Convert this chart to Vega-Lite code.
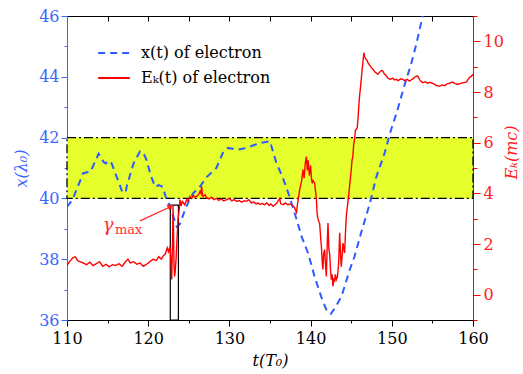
{
  "$schema": "https://vega.github.io/schema/vega-lite/v6.json",
  "width": 406,
  "height": 304,
  "autosize": "none",
  "padding": {"left": 67, "top": 16, "right": 50, "bottom": 54},
  "background": "white",
  "config": {
    "view": {"stroke": "black", "strokeWidth": 1},
    "font": "DejaVu Serif",
    "axis": {"grid": false, "labelFont": "DejaVu Serif", "titleFont": "DejaVu Serif", "labelFontSize": 16, "titleFontSize": 16, "titleFontWeight": "normal"},
    "legend": {"labelFont": "DejaVu Serif"}
  },
  "datasets": {
    "band": [{"t": 110, "t2": 160, "xl": 40, "xl2": 42}],
    "box": [{"t": 122.72, "t2": 123.72, "xl": 36, "xl2": 39.78}],
    "arrow": [{"t": 119.0, "t2": 122.6, "xl": 39.26, "xl2": 39.71}],
    "head": [{"t": 122.75, "xl": 39.74}],
    "gamma": [{"t": 114.4, "xl": 38.93, "label": "γ"}],
    "gsub": [{"t": 115.9, "xl": 38.84, "label": "max"}],
    "xpos": [
      {"t": 110, "xl": 39.72}, {"t": 110.7, "xl": 39.97}, {"t": 112.0, "xl": 40.83}, {"t": 112.9, "xl": 40.88},
      {"t": 113.9, "xl": 41.47}, {"t": 114.5, "xl": 41.2}, {"t": 114.8, "xl": 41.15}, {"t": 115.1, "xl": 41.24},
      {"t": 115.5, "xl": 41.15}, {"t": 116.5, "xl": 40.44}, {"t": 116.8, "xl": 40.22}, {"t": 117.2, "xl": 40.19},
      {"t": 117.4, "xl": 40.44}, {"t": 118.2, "xl": 41.15}, {"t": 119.0, "xl": 41.55}, {"t": 119.4, "xl": 41.5},
      {"t": 119.8, "xl": 41.26}, {"t": 120.3, "xl": 40.77}, {"t": 120.85, "xl": 40.38}, {"t": 121.3, "xl": 40.44},
      {"t": 121.8, "xl": 40.38}, {"t": 122.1, "xl": 40.1}, {"t": 122.4, "xl": 39.9}, {"t": 122.7, "xl": 39.73},
      {"t": 123.1, "xl": 39.4}, {"t": 123.5, "xl": 39.07}, {"t": 123.9, "xl": 39.15}, {"t": 124.5, "xl": 39.6},
      {"t": 125.15, "xl": 40.0}, {"t": 125.55, "xl": 40.17}, {"t": 126.4, "xl": 40.4}, {"t": 127.2, "xl": 40.7},
      {"t": 128.4, "xl": 41.0}, {"t": 129.2, "xl": 41.5}, {"t": 129.8, "xl": 41.66}, {"t": 131.0, "xl": 41.6},
      {"t": 132.1, "xl": 41.66}, {"t": 133.7, "xl": 41.82}, {"t": 135.0, "xl": 41.88}, {"t": 135.3, "xl": 41.6},
      {"t": 135.8, "xl": 41.16}, {"t": 136.6, "xl": 40.67}, {"t": 137.4, "xl": 40.06}, {"t": 138.3, "xl": 39.29},
      {"t": 138.9, "xl": 38.74}, {"t": 139.7, "xl": 38.19}, {"t": 140.5, "xl": 37.42}, {"t": 141.3, "xl": 36.77},
      {"t": 142.0, "xl": 36.3}, {"t": 142.5, "xl": 36.2}, {"t": 143.0, "xl": 36.4}, {"t": 143.8, "xl": 36.77},
      {"t": 144.8, "xl": 37.64}, {"t": 145.4, "xl": 38.08}, {"t": 146.2, "xl": 38.85}, {"t": 147.3, "xl": 39.84},
      {"t": 148.1, "xl": 40.71}, {"t": 149.1, "xl": 41.48}, {"t": 149.9, "xl": 42.25}, {"t": 150.7, "xl": 42.91},
      {"t": 151.5, "xl": 43.67}, {"t": 152.4, "xl": 44.44}, {"t": 153.0, "xl": 45.05}, {"t": 153.8, "xl": 46.0}
    ],
    "ek": [
      {"t": 110, "ek": 1.15}, {"t": 110.3, "ek": 1.3}, {"t": 110.7, "ek": 1.45}, {"t": 111.0, "ek": 1.5},
      {"t": 111.3, "ek": 1.35}, {"t": 111.6, "ek": 1.3}, {"t": 112.0, "ek": 1.25}, {"t": 112.4, "ek": 1.18},
      {"t": 112.8, "ek": 1.28}, {"t": 113.2, "ek": 1.15}, {"t": 113.6, "ek": 1.22}, {"t": 114.0, "ek": 1.3},
      {"t": 114.4, "ek": 1.12}, {"t": 114.8, "ek": 1.2}, {"t": 115.2, "ek": 1.1}, {"t": 115.6, "ek": 1.18},
      {"t": 116.0, "ek": 1.15}, {"t": 116.4, "ek": 1.22}, {"t": 116.8, "ek": 1.12}, {"t": 117.2, "ek": 1.3},
      {"t": 117.5, "ek": 1.4}, {"t": 117.8, "ek": 1.25}, {"t": 118.2, "ek": 1.3}, {"t": 118.6, "ek": 1.2},
      {"t": 119.0, "ek": 1.25}, {"t": 119.4, "ek": 1.12}, {"t": 119.8, "ek": 1.2}, {"t": 120.2, "ek": 1.3},
      {"t": 120.6, "ek": 1.4}, {"t": 121.0, "ek": 1.35}, {"t": 121.3, "ek": 1.5}, {"t": 121.6, "ek": 1.4},
      {"t": 121.9, "ek": 1.55}, {"t": 122.1, "ek": 1.6}, {"t": 122.35, "ek": 1.85}, {"t": 122.5, "ek": 1.7},
      {"t": 122.7, "ek": 1.9}, {"t": 122.81, "ek": 1.2}, {"t": 122.9, "ek": 0.6}, {"t": 123.0, "ek": 2.2},
      {"t": 123.06, "ek": 3.5}, {"t": 123.12, "ek": 2.5}, {"t": 123.18, "ek": 1.2}, {"t": 123.25, "ek": 0.72},
      {"t": 123.32, "ek": 0.9}, {"t": 123.43, "ek": 1.4}, {"t": 123.55, "ek": 2.2}, {"t": 123.67, "ek": 2.96},
      {"t": 123.8, "ek": 3.3}, {"t": 123.92, "ek": 3.75}, {"t": 124.05, "ek": 3.5}, {"t": 124.2, "ek": 3.68},
      {"t": 124.32, "ek": 3.63}, {"t": 124.5, "ek": 3.55}, {"t": 124.74, "ek": 3.75}, {"t": 124.9, "ek": 3.7},
      {"t": 125.15, "ek": 3.88}, {"t": 125.35, "ek": 3.8}, {"t": 125.55, "ek": 3.92}, {"t": 125.75, "ek": 3.85},
      {"t": 125.97, "ek": 3.88}, {"t": 126.2, "ek": 3.95}, {"t": 126.38, "ek": 4.08}, {"t": 126.5, "ek": 4.0},
      {"t": 126.58, "ek": 4.28}, {"t": 126.68, "ek": 3.9}, {"t": 126.78, "ek": 3.88}, {"t": 127.0, "ek": 3.95},
      {"t": 127.2, "ek": 3.82}, {"t": 127.5, "ek": 3.78}, {"t": 127.8, "ek": 3.85}, {"t": 128.1, "ek": 3.75},
      {"t": 128.4, "ek": 3.8}, {"t": 128.7, "ek": 3.72}, {"t": 129.0, "ek": 3.78}, {"t": 129.3, "ek": 3.7},
      {"t": 129.66, "ek": 3.75}, {"t": 130.0, "ek": 3.8}, {"t": 130.3, "ek": 3.7}, {"t": 130.6, "ek": 3.75},
      {"t": 130.9, "ek": 3.68}, {"t": 131.2, "ek": 3.72}, {"t": 131.5, "ek": 3.65}, {"t": 131.8, "ek": 3.7},
      {"t": 132.11, "ek": 3.69}, {"t": 132.4, "ek": 3.75}, {"t": 132.7, "ek": 3.62}, {"t": 133.0, "ek": 3.66},
      {"t": 133.3, "ek": 3.58}, {"t": 133.5, "ek": 3.62}, {"t": 133.75, "ek": 3.56}, {"t": 134.0, "ek": 3.6},
      {"t": 134.3, "ek": 3.55}, {"t": 134.6, "ek": 3.62}, {"t": 134.9, "ek": 3.52}, {"t": 135.1, "ek": 3.58},
      {"t": 135.38, "ek": 3.49}, {"t": 135.6, "ek": 3.55}, {"t": 135.8, "ek": 3.6}, {"t": 136.0, "ek": 3.7},
      {"t": 136.2, "ek": 3.8}, {"t": 136.3, "ek": 3.6}, {"t": 136.6, "ek": 3.55}, {"t": 136.9, "ek": 3.62},
      {"t": 137.2, "ek": 3.55}, {"t": 137.5, "ek": 3.58}, {"t": 137.84, "ek": 3.5}, {"t": 138.0, "ek": 3.45},
      {"t": 138.26, "ek": 3.25}, {"t": 138.4, "ek": 3.6}, {"t": 138.66, "ek": 4.15}, {"t": 138.9, "ek": 4.5},
      {"t": 139.07, "ek": 4.94}, {"t": 139.2, "ek": 4.6}, {"t": 139.35, "ek": 5.2}, {"t": 139.48, "ek": 5.45},
      {"t": 139.6, "ek": 4.9}, {"t": 139.7, "ek": 5.3}, {"t": 139.85, "ek": 4.7}, {"t": 140.0, "ek": 5.1},
      {"t": 140.1, "ek": 4.6}, {"t": 140.2, "ek": 4.4}, {"t": 140.3, "ek": 4.5}, {"t": 140.5, "ek": 4.4},
      {"t": 140.71, "ek": 3.8}, {"t": 140.8, "ek": 3.2}, {"t": 140.91, "ek": 3.0}, {"t": 141.0, "ek": 2.9},
      {"t": 141.12, "ek": 2.8}, {"t": 141.25, "ek": 2.2}, {"t": 141.33, "ek": 1.9}, {"t": 141.45, "ek": 1.2},
      {"t": 141.52, "ek": 0.99}, {"t": 141.6, "ek": 1.6}, {"t": 141.73, "ek": 1.78}, {"t": 141.85, "ek": 1.1},
      {"t": 141.94, "ek": 0.72}, {"t": 142.05, "ek": 2.0}, {"t": 142.14, "ek": 2.83}, {"t": 142.25, "ek": 1.8},
      {"t": 142.35, "ek": 1.6}, {"t": 142.45, "ek": 1.0}, {"t": 142.55, "ek": 0.59}, {"t": 142.65, "ek": 0.8},
      {"t": 142.75, "ek": 0.33}, {"t": 142.85, "ek": 0.6}, {"t": 142.96, "ek": 0.55}, {"t": 143.05, "ek": 0.8},
      {"t": 143.17, "ek": 0.59}, {"t": 143.3, "ek": 0.7}, {"t": 143.45, "ek": 1.2}, {"t": 143.58, "ek": 2.44},
      {"t": 143.7, "ek": 1.5}, {"t": 143.78, "ek": 1.1}, {"t": 143.9, "ek": 1.6}, {"t": 143.98, "ek": 2.04},
      {"t": 144.1, "ek": 1.8}, {"t": 144.19, "ek": 1.65}, {"t": 144.3, "ek": 2.5}, {"t": 144.4, "ek": 3.1},
      {"t": 144.5, "ek": 3.4}, {"t": 144.59, "ek": 3.62}, {"t": 144.7, "ek": 3.95}, {"t": 144.8, "ek": 4.28},
      {"t": 144.9, "ek": 4.6}, {"t": 145.01, "ek": 4.94}, {"t": 145.1, "ek": 5.3}, {"t": 145.21, "ek": 5.47},
      {"t": 145.3, "ek": 5.9}, {"t": 145.42, "ek": 6.13}, {"t": 145.52, "ek": 6.5}, {"t": 145.63, "ek": 6.52},
      {"t": 145.75, "ek": 6.6}, {"t": 145.85, "ek": 7.0}, {"t": 145.95, "ek": 7.5}, {"t": 146.03, "ek": 7.84},
      {"t": 146.15, "ek": 8.2}, {"t": 146.24, "ek": 8.5}, {"t": 146.35, "ek": 8.9}, {"t": 146.44, "ek": 9.16},
      {"t": 146.56, "ek": 9.55}, {"t": 146.65, "ek": 9.4}, {"t": 146.8, "ek": 9.3}, {"t": 146.95, "ek": 9.25},
      {"t": 147.05, "ek": 9.16}, {"t": 147.3, "ek": 9.05}, {"t": 147.5, "ek": 8.95}, {"t": 147.67, "ek": 8.9},
      {"t": 147.9, "ek": 8.8}, {"t": 148.1, "ek": 8.75}, {"t": 148.28, "ek": 8.7}, {"t": 148.5, "ek": 8.78},
      {"t": 148.7, "ek": 8.85}, {"t": 148.89, "ek": 8.83}, {"t": 149.1, "ek": 8.7}, {"t": 149.3, "ek": 8.65},
      {"t": 149.51, "ek": 8.55}, {"t": 149.8, "ek": 8.5}, {"t": 150.1, "ek": 8.55}, {"t": 150.3, "ek": 8.48},
      {"t": 150.54, "ek": 8.5}, {"t": 150.8, "ek": 8.45}, {"t": 151.1, "ek": 8.52}, {"t": 151.35, "ek": 8.5},
      {"t": 151.6, "ek": 8.45}, {"t": 151.9, "ek": 8.5}, {"t": 152.17, "ek": 8.43}, {"t": 152.5, "ek": 8.5},
      {"t": 152.8, "ek": 8.58}, {"t": 153.0, "ek": 8.62}, {"t": 153.19, "ek": 8.63}, {"t": 153.4, "ek": 8.5},
      {"t": 153.6, "ek": 8.42}, {"t": 153.81, "ek": 8.37}, {"t": 154.1, "ek": 8.4}, {"t": 154.4, "ek": 8.35},
      {"t": 154.7, "ek": 8.38}, {"t": 155.04, "ek": 8.34}, {"t": 155.3, "ek": 8.3}, {"t": 155.5, "ek": 8.25},
      {"t": 155.86, "ek": 8.23}, {"t": 156.2, "ek": 8.28}, {"t": 156.5, "ek": 8.25}, {"t": 156.8, "ek": 8.32},
      {"t": 157.1, "ek": 8.35}, {"t": 157.49, "ek": 8.39}, {"t": 157.8, "ek": 8.33}, {"t": 158.11, "ek": 8.3},
      {"t": 158.4, "ek": 8.33}, {"t": 158.7, "ek": 8.36}, {"t": 158.93, "ek": 8.37}, {"t": 159.2, "ek": 8.4},
      {"t": 159.55, "ek": 8.57}, {"t": 159.8, "ek": 8.62}, {"t": 160, "ek": 8.7}
    ]
  },
  "layer": [
    {
      "encoding": {
        "x": {
          "field": "t", "type": "quantitative",
          "scale": {"domain": [110, 160], "nice": false, "zero": false},
          "axis": {
            "orient": "bottom", "title": "t(T₀)", "titleFontStyle": "italic",
            "values": [110, 115, 120, 125, 130, 135, 140, 145, 150, 155, 160],
            "labelExpr": "datum.value % 10 == 0 ? datum.label : ''",
            "tickSize": {"condition": {"test": "datum.value % 10 != 0", "value": 3}, "value": 6},
            "labelFont": "DejaVu Serif", "titleFont": "DejaVu Serif",
            "domainColor": "black", "tickColor": "black", "labelColor": "black", "titleColor": "black",
            "labelPadding": 4, "titlePadding": 6, "labelFlush": false
          }
        },
        "y": {
          "field": "xl", "type": "quantitative",
          "scale": {"domain": [36, 46], "nice": false, "zero": false},
          "axis": {
            "orient": "left", "title": "x(λ₀)", "titleFontStyle": "italic",
            "values": [36, 37, 38, 39, 40, 41, 42, 43, 44, 45, 46],
            "labelExpr": "datum.value % 2 == 0 ? datum.label : ''",
            "tickSize": {"condition": {"test": "datum.value % 2 != 0", "value": 3}, "value": 6},
            "labelFont": "DejaVu Serif", "titleFont": "DejaVu Serif",
            "domainColor": "#3d66ff", "tickColor": "#3d66ff", "labelColor": "#3d66ff", "titleColor": "#3d66ff",
            "labelPadding": 2, "titlePadding": 9, "labelFlush": false
          }
        }
      },
      "layer": [
        {
          "data": {"name": "band"},
          "mark": {"type": "rect", "fill": "#e5ff2c", "stroke": "black", "strokeDash": [9, 3, 2, 3], "strokeWidth": 1.3},
          "encoding": {"x2": {"field": "t2"}, "y2": {"field": "xl2"}}
        },
        {
          "data": {"name": "xpos"},
          "mark": {"type": "line", "strokeWidth": 2, "clip": true},
          "encoding": {
            "color": {"datum": "x(t) of electron", "type": "nominal",
              "scale": {"domain": ["x(t) of electron", "Eₖ(t) of electron"], "range": ["#2e5bff", "#ff0000"]},
              "legend": {"title": null, "orient": "none", "legendX": 30, "legendY": 20, "symbolType": "stroke", "symbolSize": 1000, "symbolStrokeWidth": 2, "labelFont": "DejaVu Serif", "labelFontSize": 16, "labelColor": "black", "labelOffset": 10, "rowPadding": -8, "padding": 0}},
            "strokeDash": {"datum": "x(t) of electron", "type": "nominal",
              "scale": {"domain": ["x(t) of electron", "Eₖ(t) of electron"], "range": [[7, 5], [1, 0]]},
              "legend": {"title": null, "orient": "none", "legendX": 30, "legendY": 20, "symbolType": "stroke", "symbolSize": 1000, "symbolStrokeWidth": 2, "labelFont": "DejaVu Serif", "labelFontSize": 16, "labelColor": "black", "labelOffset": 10, "rowPadding": -8, "padding": 0}}
          }
        },
        {
          "data": {"name": "box"},
          "mark": {"type": "rect", "fillOpacity": 0, "stroke": "black", "strokeWidth": 1.2},
          "encoding": {"x2": {"field": "t2"}, "y2": {"field": "xl2"}}
        },
        {
          "data": {"name": "arrow"},
          "mark": {"type": "rule", "color": "#ff2020", "strokeWidth": 1.2},
          "encoding": {"x2": {"field": "t2"}, "y2": {"field": "xl2"}}
        },
        {
          "data": {"name": "head"},
          "mark": {"type": "point", "shape": "triangle-right", "filled": true, "color": "#ff2020", "size": 45, "angle": 333, "opacity": 1},
          "encoding": {}
        },
        {
          "data": {"name": "gamma"},
          "mark": {"type": "text", "color": "#ff3030", "fontSize": 18, "fontStyle": "italic", "align": "left", "baseline": "alphabetic", "font": "DejaVu Serif"},
          "encoding": {"text": {"field": "label"}}
        },
        {
          "data": {"name": "gsub"},
          "mark": {"type": "text", "color": "#ff3030", "fontSize": 13, "align": "left", "baseline": "alphabetic", "font": "DejaVu Serif"},
          "encoding": {"text": {"field": "label"}}
        }
      ]
    },
    {
      "data": {"name": "ek"},
      "mark": {"type": "line", "strokeWidth": 1.4, "clip": true},
      "encoding": {
        "x": {
          "field": "t", "type": "quantitative",
          "scale": {"domain": [110, 160], "nice": false, "zero": false},
          "axis": {
            "orient": "top", "title": null, "labels": false,
            "values": [110, 115, 120, 125, 130, 135, 140, 145, 150, 155, 160],
            "tickSize": -5, "domainColor": "black", "tickColor": "black"
          }
        },
        "y": {
          "field": "ek", "type": "quantitative",
          "scale": {"domain": [-1, 11], "nice": false, "zero": false},
          "axis": {
            "orient": "right", "title": "Eₖ(mc)", "titleFontStyle": "italic", "titleAngle": 270, "titleY": 136,
            "values": [-1, 0, 1, 2, 3, 4, 5, 6, 7, 8, 9, 10, 11],
            "labelExpr": "datum.value % 2 == 0 ? datum.label : ''",
            "tickSize": {"condition": {"test": "datum.value % 2 != 0", "value": 4}, "value": 7},
            "labelFont": "DejaVu Serif", "titleFont": "DejaVu Serif",
            "domainColor": "#ff0000", "tickColor": "#ff0000", "labelColor": "#ff2020", "titleColor": "#ff2020",
            "labelPadding": 3, "titlePadding": 16, "labelFlush": false
          }
        },
        "color": {"datum": "Eₖ(t) of electron", "type": "nominal",
          "scale": {"domain": ["x(t) of electron", "Eₖ(t) of electron"], "range": ["#2e5bff", "#ff0000"]},
          "legend": {"title": null, "orient": "none", "legendX": 30, "legendY": 20, "symbolType": "stroke", "symbolSize": 1000, "symbolStrokeWidth": 2, "labelFont": "DejaVu Serif", "labelFontSize": 16, "labelColor": "black", "labelOffset": 10, "rowPadding": -8, "padding": 0}},
        "strokeDash": {"datum": "Eₖ(t) of electron", "type": "nominal",
          "scale": {"domain": ["x(t) of electron", "Eₖ(t) of electron"], "range": [[7, 5], [1, 0]]},
          "legend": {"title": null, "orient": "none", "legendX": 30, "legendY": 20, "symbolType": "stroke", "symbolSize": 1000, "symbolStrokeWidth": 2, "labelFont": "DejaVu Serif", "labelFontSize": 16, "labelColor": "black", "labelOffset": 10, "rowPadding": -8, "padding": 0}}
      }
    }
  ],
  "resolve": {"scale": {"x": "independent", "y": "independent"}}
}
